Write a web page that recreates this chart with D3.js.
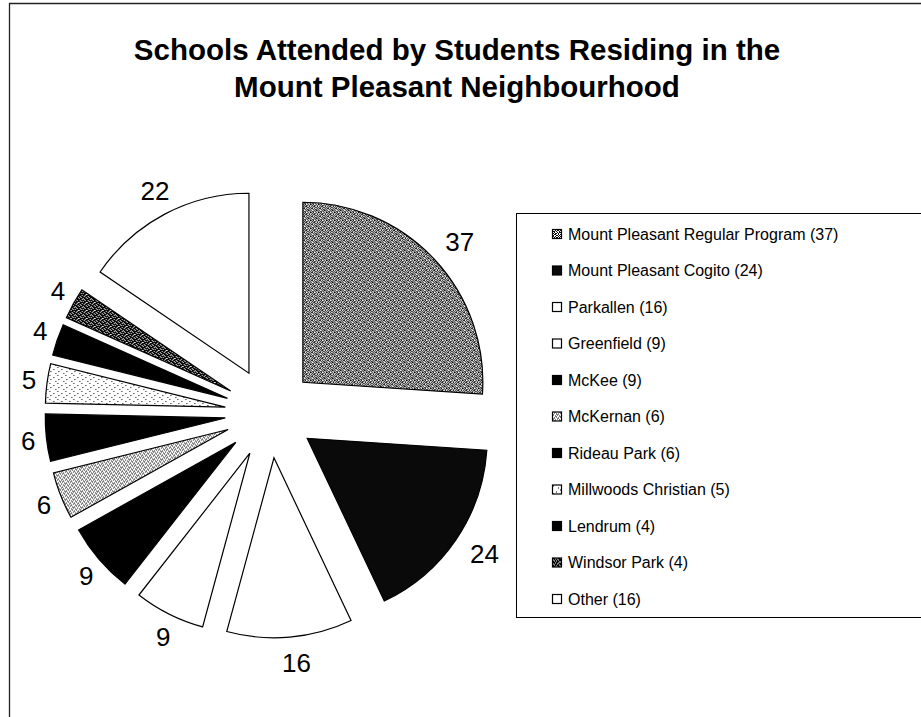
<!DOCTYPE html>
<html lang="en">
<head>
    <meta charset="UTF-8">
    <title>Schools Attended by Students Residing in the Mount Pleasant Neighbourhood</title>
    <style>
        body { margin: 0; background: #fff; }
        svg { display: block; font-family: "Liberation Sans", Arial, sans-serif; }
        .slice { stroke: #000; stroke-width: 1.2; stroke-linejoin: miter; }
        .slice-label { font-size: 26px; fill: #000; }
        .legend-text { font-size: 16px; fill: #000; }
        .title { font-size: 29.5px; font-weight: bold; fill: #000; }
    </style>
</head>
<body>
    <svg></svg>
<script src="https://d3js.org/d3.v7.min.js"></script>
<script>
    // values
    var schools = ["Mount Pleasant Regular Program", "Mount Pleasant Cogito", "Parkallen",
        "Greenfield", "McKee", "McKernan", "Rideau Park", "Millwoods Christian",
        "Lendrum", "Windsor Park", "Other"];
    var sliceValues = [37, 24, 16, 9, 9, 6, 6, 5, 4, 4, 22];
    var legendValues = [37, 24, 16, 9, 9, 6, 6, 5, 4, 4, 16];
    var fills = ["url(#p-grey)", "#0a0a0a", "#fff", "#fff", "#000", "url(#p-light)",
        "#000", "url(#p-dots)", "#000", "url(#p-dark)", "url(#p-sparse)"];

    var width = 921, height = 717;
    var svg = d3.select("svg").attr("width", width).attr("height", height);

    // textures for the hatched slices
    var bitmaps = {
        "p-grey": ["10110010", "01001101", "11010010", "00101101", "10010110", "01101001", "10100101", "01011010"],
        "p-light": ["10001000", "00100010", "01000100", "00010001", "10100000", "00001010", "01000100", "00010001"],
        "p-dots": ["10000000", "00000000", "00001000", "00000000", "01000000", "00000000", "00000010", "00000000"],
        "p-dark": ["11101101", "10111011", "11011110", "01110111", "11101011", "10111101", "11010111", "01111110"],
        "p-sparse": ["00000000", "00000000", "00000000", "00000000", "00000000", "00000000", "00000000", "00000000"]
    };
    var defs = svg.append("defs");
    Object.keys(bitmaps).forEach(function(id) {
        var p = defs.append("pattern").attr("id", id)
            .attr("patternUnits", "userSpaceOnUse").attr("width", 8).attr("height", 8);
        p.append("rect").attr("width", 8).attr("height", 8).attr("fill", "#fff");
        bitmaps[id].forEach(function(row, y) {
            row.split("").forEach(function(c, x) {
                if (c === "1") p.append("rect").attr("x", x).attr("y", y)
                    .attr("width", 1).attr("height", 1).attr("fill", "#000");
            });
        });
    });

    // outer frame
    svg.append("path")
        .attr("d", "M9.5," + height + "V3.5H" + width)
        .attr("fill", "none").attr("stroke", "#222").attr("stroke-width", 1.3);

    // title
    var title = svg.append("text").attr("class", "title").attr("text-anchor", "middle");
    title.append("tspan").attr("x", 457).attr("y", 60).text("Schools Attended by Students Residing in the");
    title.append("tspan").attr("x", 457).attr("y", 97).text("Mount Pleasant Neighbourhood");

    // pie
    var cx = 270, cy = 413, radius = 180, explode = 45, labelR = 240;
    var pie = d3.pie().sort(null).value(function(d) { return d; });
    var arc = d3.arc().innerRadius(0).outerRadius(radius);
    var arcs = pie(sliceValues);

    var g = svg.append("g").attr("transform", "translate(" + cx + "," + cy + ")");

    function dir(d) {
        var a = (d.startAngle + d.endAngle) / 2;
        return [Math.sin(a), -Math.cos(a)];
    }

    g.selectAll(".slice")
        .data(arcs)
        .enter()
        .append("path")
        .attr("class", "slice")
        .attr("fill", function(d, i) { return fills[i]; })
        .attr("transform", function(d) {
            var v = dir(d);
            return "translate(" + v[0] * explode + "," + v[1] * explode + ")";
        })
        .attr("d", arc);

    g.selectAll(".slice-label")
        .data(arcs)
        .enter()
        .append("text")
        .attr("class", "slice-label")
        .attr("text-anchor", "middle")
        .attr("dominant-baseline", "central")
        .text(function(d) { return d.data; })
        .each(function(d) {
            var v = dir(d);
            var box = this.getBBox();
            d3.select(this)
                .attr("x", v[0] * labelR + v[0] * box.width / 2 + 4)
                .attr("y", v[1] * labelR + v[1] * 11);
        });

    // legend
    var legend = svg.append("g");
    legend.append("rect")
        .attr("x", 516.5).attr("y", 213.5)
        .attr("width", width).attr("height", 404)
        .attr("fill", "#fff").attr("stroke", "#000").attr("stroke-width", 1);

    var ly = d3.scalePoint().domain(schools).range([234, 599]);

    var items = legend.selectAll(".legend-item")
        .data(schools)
        .enter()
        .append("g")
        .attr("transform", function(d) { return "translate(552," + ly(d) + ")"; });

    items.append("rect")
        .attr("x", 0.5).attr("y", -4.5)
        .attr("width", 9).attr("height", 9)
        .attr("fill", function(d, i) { return fills[i]; })
        .attr("stroke", "#000").attr("stroke-width", 1.2);

    items.append("text")
        .attr("class", "legend-text")
        .attr("x", 16)
        .attr("dy", "0.35em")
        .text(function(d, i) { return d + " (" + legendValues[i] + ")"; });
</script>
</body>
</html>
